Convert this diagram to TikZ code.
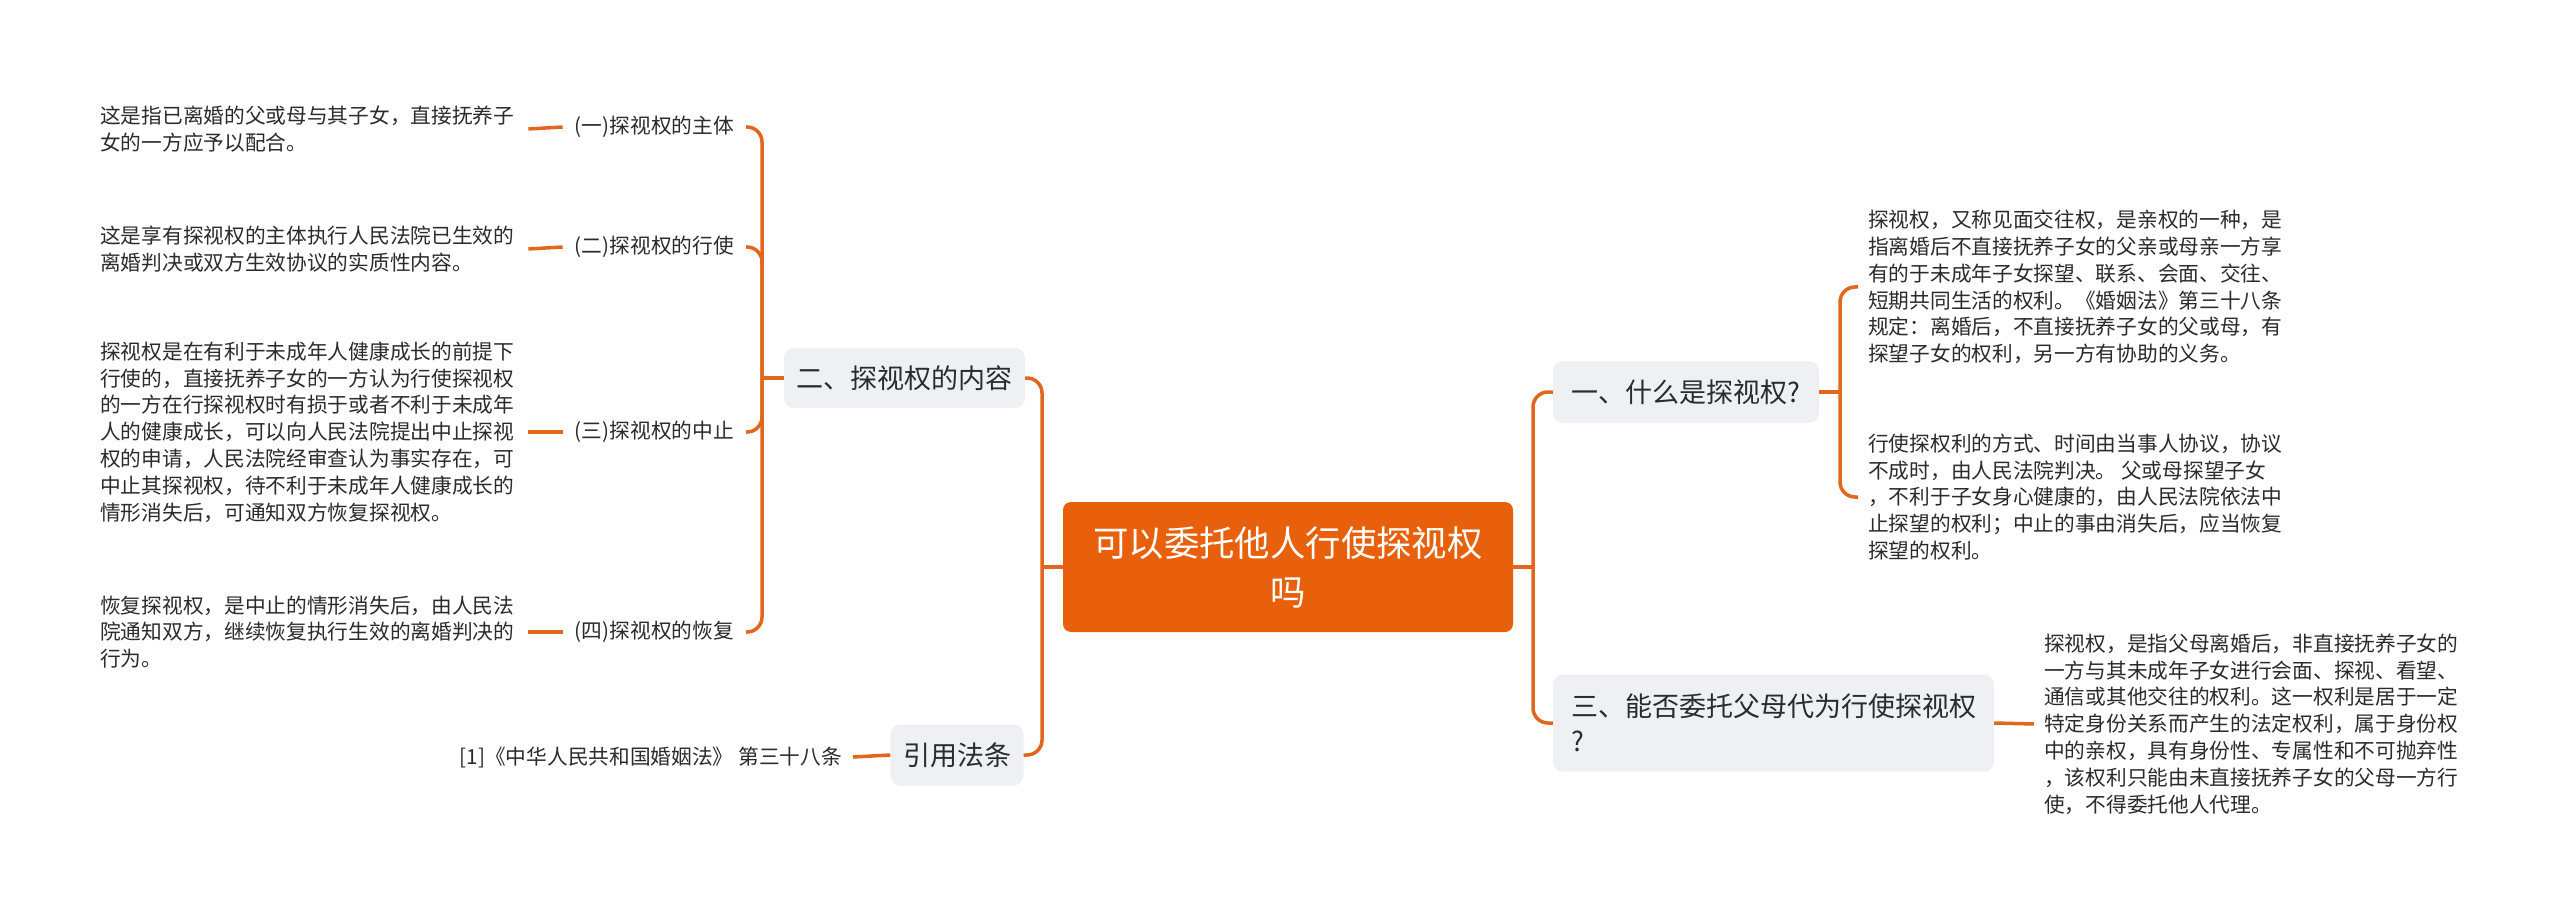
\documentclass[tikz,border=0pt]{standalone}
\usepackage{fontspec}
\newfontfamily\cjk{Noto Sans CJK SC}
\definecolor{rootC}{HTML}{E8600B}
\definecolor{lineC}{HTML}{E2661B}
\definecolor{gboxC}{HTML}{EEF0F4}
\definecolor{txtC}{HTML}{2B2B2B}
\tikzset{
  root/.style={fill=rootC, rounded corners=8, text=white, align=center,
    font=\cjk\fontsize{35.4}{49}\selectfont, minimum width=450, minimum height=130, inner sep=0},
  gbox/.style={fill=gboxC, rounded corners=10, text=txtC, align=left,
    font=\cjk\fontsize{27}{35}\selectfont, inner sep=0},
  leaf/.style={text=txtC, align=left, font=\cjk\fontsize{20.7}{26.8}\selectfont, inner sep=0, anchor=west},
  lab/.style={text=txtC, font=\cjk\fontsize{20.7}{26.8}\selectfont, inner xsep=12, inner ysep=0, anchor=east},
  conn/.style={draw=lineC, line width=3.5, rounded corners=15},
}
\begin{document}
\begin{tikzpicture}[x=1pt,y=-1pt]
\useasboundingbox (0,0) rectangle (2560,917);
\fill[white] (0,0) rectangle (2560,917);

% main nodes
\node[root] (root) at (1288,567) {可以委托他人行使探视权\\吗};
\node[gbox, minimum width=241, minimum height=60] (two) at (904.5,378) {二、探视权的内容};
\node[gbox, minimum width=133, minimum height=61] (cite) at (957,755) {引用法条};
\node[gbox, minimum width=266, minimum height=62] (one) at (1686,392) {一、什么是探视权?};
\node[gbox, minimum width=441, minimum height=97] (three) at (1773.5,723) {三、能否委托父母代为行使探视权\\?};

% left labels
\node[lab] (a1) at (746,127) {(一)探视权的主体};
\node[lab] (a2) at (746,247) {(二)探视权的行使};
\node[lab] (a3) at (746,432) {(三)探视权的中止};
\node[lab] (a4) at (746,632) {(四)探视权的恢复};

% left leaves
\node[leaf] (t1) at (100,129) {这是指已离婚的父或母与其子女，直接抚养子\\女的一方应予以配合。};
\node[leaf] (t2) at (100,249) {这是享有探视权的主体执行人民法院已生效的\\离婚判决或双方生效协议的实质性内容。};
\node[leaf] (t3) at (100,432) {探视权是在有利于未成年人健康成长的前提下\\行使的，直接抚养子女的一方认为行使探视权\\的一方在行探视权时有损于或者不利于未成年\\人的健康成长，可以向人民法院提出中止探视\\权的申请，人民法院经审查认为事实存在，可\\中止其探视权，待不利于未成年人健康成长的\\情形消失后，可通知双方恢复探视权。};
\node[leaf] (t4) at (100,632) {恢复探视权，是中止的情形消失后，由人民法\\院通知双方，继续恢复执行生效的离婚判决的\\行为。};
\node[leaf, anchor=east] (ct) at (842,757) {[1]《中华人民共和国婚姻法》 第三十八条};

% right leaves
\node[leaf] (r1) at (1868,287) {探视权，又称见面交往权，是亲权的一种，是\\指离婚后不直接抚养子女的父亲或母亲一方享\\有的于未成年子女探望、联系、会面、交往、\\短期共同生活的权利。《婚姻法》第三十八条\\规定：离婚后，不直接抚养子女的父或母，有\\探望子女的权利，另一方有协助的义务。};
\node[leaf] (r2) at (1868,497) {行使探权利的方式、时间由当事人协议，协议\\不成时，由人民法院判决。 父或母探望子女\\，不利于子女身心健康的，由人民法院依法中\\止探望的权利；中止的事由消失后，应当恢复\\探望的权利。};
\node[leaf] (r3) at (2044,724) {探视权，是指父母离婚后，非直接抚养子女的\\一方与其未成年子女进行会面、探视、看望、\\通信或其他交往的权利。这一权利是居于一定\\特定身份关系而产生的法定权利，属于身份权\\中的亲权，具有身份性、专属性和不可抛弃性\\，该权利只能由未直接抚养子女的父母一方行\\使，不得委托他人代理。};

% connectors
\coordinate (jL) at (1042,567);
\coordinate (jR) at (1533,567);
\coordinate (jA) at (762,378);
\coordinate (jB) at (1840,392);
\draw[conn] (root.west) -- (jL);
\draw[conn] (jL) |- (two.east);
\draw[conn] (jL) |- (cite.east);
\draw[conn] (root.east) -- (jR);
\draw[conn] (jR) |- (one.west);
\draw[conn] (jR) |- (three.west);

\draw[conn] (two.west) -- (jA);
\draw[conn] (jA) |- (a1.east);
\draw[conn] (jA) |- (a2.east);
\draw[conn] (jA) |- (a3.east);
\draw[conn] (jA) |- (a4.east);
\draw[conn] ([xshift=14]t1.east) -- (a1.west);
\draw[conn] ([xshift=14]t2.east) -- (a2.west);
\draw[conn] ([xshift=14]t3.east) -- (a3.west);
\draw[conn] ([xshift=14]t4.east) -- (a4.west);
\draw[conn] ([xshift=11]ct.east) -- (cite.west);

\draw[conn] (one.east) -- (jB);
\draw[conn] (jB) |- ([xshift=-10]r1.west);
\draw[conn] (jB) |- ([xshift=-10]r2.west);
\draw[conn] (three.east) -- ([xshift=-10]r3.west);
\end{tikzpicture}
\end{document}
